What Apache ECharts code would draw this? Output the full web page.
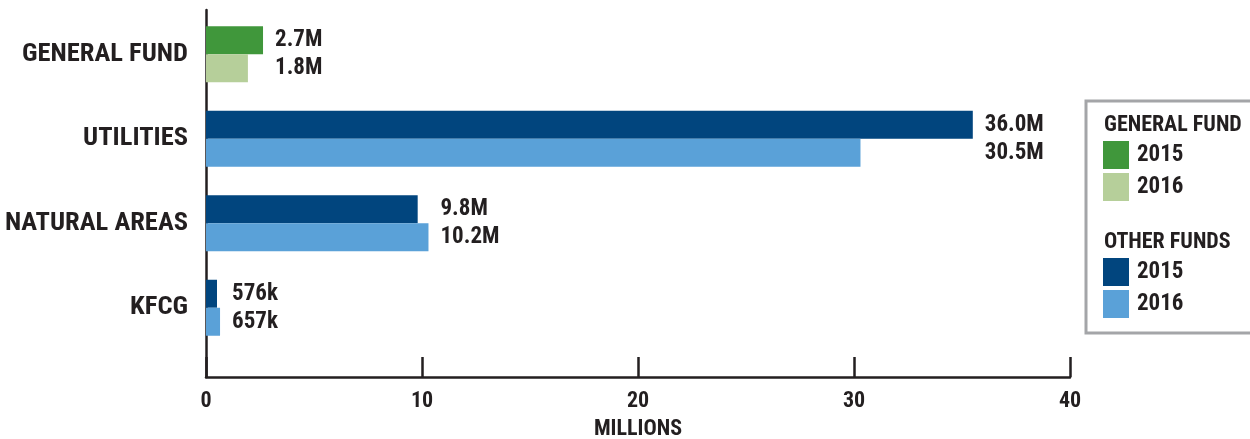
<!DOCTYPE html>
<html><head><meta charset="utf-8">
<script src="https://cdn.jsdelivr.net/npm/echarts@6/dist/echarts.min.js"></script>
<style>html,body{margin:0;padding:0;background:#fff}#c{width:1250px;height:439px}</style>
</head><body><div id="c"></div>
<script>
const categories = ['GENERAL FUND', 'UTILITIES', 'NATURAL AREAS', 'KFCG'];
const generalFund2015 = [2.64, null, null, null];
const generalFund2016 = [1.94, null, null, null];
const otherFunds2015 = [null, 35.5, 9.8, 0.51];
const otherFunds2016 = [null, 30.3, 10.3, 0.65];
const labels2015 = ['2.7M', '36.0M', '9.8M', '576k'];
const labels2016 = ['1.8M', '30.5M', '10.2M', '657k'];
const xMin = 0, xMax = 40, xInterval = 10;
const xAxisName = 'MILLIONS';
const legendHeadings = ['GENERAL FUND', 'OTHER FUNDS'];

const FONT = "'Roboto Condensed', 'Liberation Sans Narrow', 'DejaVu Sans Condensed', sans-serif";
const INK = '#231f20';
const C = { gf15: '#40973b', gf16: '#b6cf9a', of15: '#01457e', of16: '#5aa1d8' };

const v = (a, i) => (a[i] == null ? 0 : a[i]);
const labelAnchor = categories.map((c, i) => [
  Math.max(v(generalFund2015, i), v(generalFund2016, i), v(otherFunds2015, i), v(otherFunds2016, i)), i
]);

const chart = echarts.init(document.getElementById('c'), null, { renderer: 'canvas' });
chart.setOption({
  animation: false,
  textStyle: { fontFamily: FONT, color: INK, fontWeight: 700 },
  grid: [
    { left: 206, right: 180, top: 12, bottom: 89, containLabel: false, outerBoundsMode: 'none' },
    { left: 206, right: 180, top: 10, bottom: 62, containLabel: false, outerBoundsMode: 'none' }
  ],
  xAxis: [
    { gridIndex: 0, type: 'value', min: xMin, max: xMax, show: false },
    {
      gridIndex: 1, type: 'value', min: xMin, max: xMax, interval: xInterval,
      axisLine: { show: true, lineStyle: { color: INK, width: 2.5 } },
      axisTick: { show: true, inside: true, length: 20, lineStyle: { color: INK, width: 2.5 } },
      splitLine: { show: false },
      axisLabel: {
        margin: 13, formatter: '{t|{value}}',
        rich: { t: { color: INK, fontFamily: FONT, fontWeight: 'bold', fontSize: 22 } }
      },
      name: xAxisName, nameLocation: 'middle', nameGap: 41,
      nameTextStyle: { color: INK, fontFamily: FONT, fontWeight: 700, fontSize: 22 }
    }
  ],
  yAxis: [
    {
      gridIndex: 0, type: 'category', data: categories, inverse: true,
      axisLine: { show: false }, axisTick: { show: false },
      axisLabel: { color: INK, fontFamily: FONT, fontWeight: 700, fontSize: 26.5, margin: 18 }
    },
    {
      gridIndex: 1, type: 'value', min: 0, max: 1,
      axisLine: { show: true, lineStyle: { color: INK, width: 2.5 } },
      axisTick: { show: false }, axisLabel: { show: false }, splitLine: { show: false }
    }
  ],
  legend: [
    {
      data: ['GF 2015', 'GF 2016'], orient: 'vertical', left: 1103, top: 141, padding: 0,
      itemWidth: 26, itemHeight: 28, itemGap: 4, icon: 'rect', selectedMode: false,
      formatter: n => n.slice(-4),
      textStyle: { color: INK, fontFamily: FONT, fontWeight: 700, fontSize: 23, padding: [0, 0, 0, 3] }
    },
    {
      data: ['OF 2015', 'OF 2016'], orient: 'vertical', left: 1103, top: 258, padding: 0,
      itemWidth: 26, itemHeight: 28, itemGap: 4, icon: 'rect', selectedMode: false,
      formatter: n => n.slice(-4),
      textStyle: { color: INK, fontFamily: FONT, fontWeight: 700, fontSize: 23, padding: [0, 0, 0, 3] }
    }
  ],
  graphic: [
    { type: 'rect', x: 1086, y: 101, shape: { width: 200, height: 232 },
      style: { fill: 'none', stroke: '#a4a5a8', lineWidth: 3 } },
    { type: 'text', x: 1104, y: 125, style: { text: legendHeadings[0], fill: INK,
      font: "bold 22px " + FONT, verticalAlign: 'middle' } },
    { type: 'text', x: 1104, y: 242, style: { text: legendHeadings[1], fill: INK,
      font: "bold 22px " + FONT, verticalAlign: 'middle' } }
  ],
  series: [
    { name: 'GF 2015', type: 'bar', stack: 'y2015', xAxisIndex: 0, yAxisIndex: 0,
      data: generalFund2015, barWidth: 28, barGap: '0%', itemStyle: { color: C.gf15 } },
    { name: 'GF 2016', type: 'bar', stack: 'y2016', xAxisIndex: 0, yAxisIndex: 0,
      data: generalFund2016, barWidth: 28, barGap: '0%', itemStyle: { color: C.gf16 } },
    { name: 'OF 2015', type: 'bar', stack: 'y2015', xAxisIndex: 0, yAxisIndex: 0,
      data: otherFunds2015, barWidth: 28, barGap: '0%', itemStyle: { color: C.of15 } },
    { name: 'OF 2016', type: 'bar', stack: 'y2016', xAxisIndex: 0, yAxisIndex: 0,
      data: otherFunds2016, barWidth: 28, barGap: '0%', itemStyle: { color: C.of16 } },
    { name: 'labels', type: 'scatter', xAxisIndex: 0, yAxisIndex: 0, symbolSize: 0,
      data: labelAnchor, silent: true, itemStyle: { opacity: 1 },
      label: {
        show: true, position: 'right', distance: 12, opacity: 1,
        formatter: p => labels2015[p.dataIndex] + '\n' + labels2016[p.dataIndex],
        color: INK, fontFamily: FONT, fontWeight: 700, fontSize: 23, lineHeight: 28
      }
    }
  ]
});
</script></body></html>
